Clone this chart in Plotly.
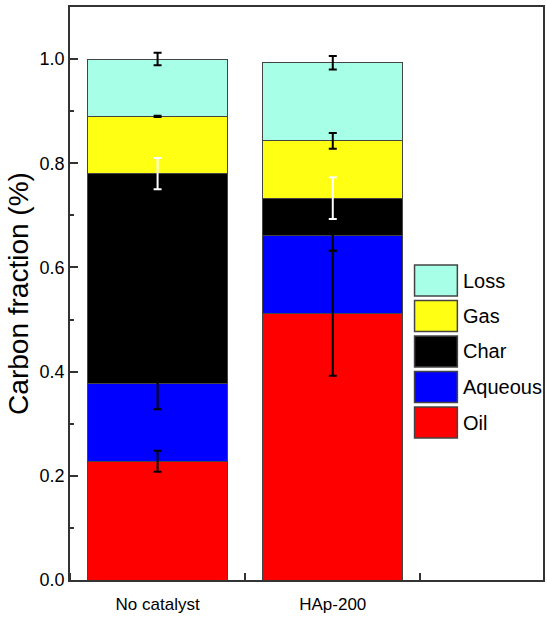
import plotly.graph_objects as go
import numpy as np

categories = ["No catalyst", "HAp-200"]
x_pos = [1, 2]
series = ["Oil", "Aqueous", "Char", "Gas", "Loss"]
oil = [0.228, 0.512]
aqueous = [0.150, 0.150]
char = [0.402, 0.071]
gas = [0.110, 0.110]
loss = [0.110, 0.150]
oil_err = [0.020, 0.120]
aqueous_err = [0.050, 0.030]
char_err = [0.030, 0.040]
gas_err = [0.001, 0.015]
loss_err = [0.012, 0.013]

values = [oil, aqueous, char, gas, loss]
errors = [oil_err, aqueous_err, char_err, gas_err, loss_err]
colors = ["#FF0000", "#0000FF", "#000000", "#FFFF14", "#A6FFE6"]
err_colors = ["black", "black", "white", "black", "black"]

font_fam = "Liberation Sans, Arial, sans-serif"

fig = go.Figure()
for name, vals, col in zip(series, values, colors):
    fig.add_trace(go.Bar(
        x=x_pos, y=vals, name=name, width=0.8,
        marker=dict(color=col, line=dict(color="#444444", width=1)),
        showlegend=False,
    ))

# error bars drawn on top of all stacked segments
cum = np.zeros(len(x_pos))
for vals, errs, ec in zip(values, errors, err_colors):
    cum = cum + np.array(vals)
    fig.add_trace(go.Scatter(
        x=x_pos, y=cum.tolist(), mode="markers",
        marker=dict(size=1, color="rgba(0,0,0,0)"),
        error_y=dict(type="data", array=errs, visible=True,
                     color=ec, thickness=2, width=4),
        showlegend=False, hoverinfo="skip",
    ))

# custom legend (large swatches), Loss on top
L, R, T, B = 70, 545, 7, 580
W, H = R - L, B - T
def px(x):
    return (x - L) / W
def py(y):
    return (B - y) / H

legend_order = list(zip(series, colors))[::-1]
top0, step, sh = 265, 35.5, 31
for i, (name, col) in enumerate(legend_order):
    y0 = top0 + i * step
    fig.add_shape(type="rect", xref="paper", yref="paper",
                  x0=px(416), x1=px(459), y0=py(y0 + sh), y1=py(y0),
                  fillcolor=col, line=dict(color="#444444", width=1.5))
    fig.add_annotation(xref="paper", yref="paper", x=px(463), y=py(y0 + sh / 2),
                       text=name, showarrow=False, xanchor="left", yanchor="middle",
                       font=dict(family=font_fam, size=20, color="black"))

fig.update_layout(
    barmode="stack",
    width=547, height=619,
    margin=dict(l=L, r=547 - R, t=T, b=619 - B),
    plot_bgcolor="white", paper_bgcolor="white",
    showlegend=False,
)
fig.update_xaxes(
    range=[0.5, 3.2], tickvals=x_pos, ticktext=categories,
    ticks="", showgrid=False, zeroline=False,
    showline=True, linecolor="#333333", linewidth=1.5, mirror=True,
    tickfont=dict(family=font_fam, size=17, color="black"),
    ticklabelstandoff=8,
    minor=dict(tick0=0.5, dtick=1, ticks="inside", ticklen=7,
               tickcolor="#333333", tickwidth=1.5, showgrid=False),
)
fig.update_yaxes(
    range=[0, 1.1], tickvals=[0, 0.2, 0.4, 0.6, 0.8, 1.0],
    ticktext=["0.0", "0.2", "0.4", "0.6", "0.8", "1.0"],
    ticks="inside", ticklen=8, tickwidth=1.5, tickcolor="#333333",
    showgrid=False, zeroline=False,
    showline=True, linecolor="#333333", linewidth=1.5, mirror=True,
    tickfont=dict(family=font_fam, size=18, color="black"),
    minor=dict(dtick=0.1, tick0=0, ticks="inside", ticklen=4,
               tickcolor="#333333", tickwidth=1.5, showgrid=False),
    title=dict(text="Carbon fraction (%)", standoff=3,
               font=dict(family=font_fam, size=28, color="black")),
)

fig.write_html("out.html", config={"displayModeBar": False},
               post_script="document.body.style.margin='0';document.body.style.overflow='hidden';")
